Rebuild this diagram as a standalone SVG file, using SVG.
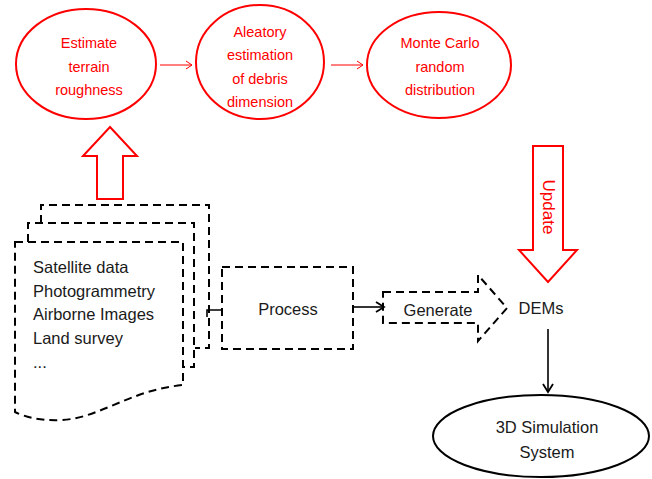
<svg xmlns="http://www.w3.org/2000/svg" width="652" height="479" viewBox="0 0 652 479">
<style>
.red{fill:none;stroke:#f00;stroke-width:2}
.rt{fill:#f00;font-family:"Liberation Sans",Arial,sans-serif;font-size:14.5px;text-anchor:middle}
.bt{fill:#1a1a1a;font-family:"Liberation Sans",Arial,sans-serif;font-size:16.5px}
.dash{fill:none;stroke:#000;stroke-width:2;stroke-dasharray:8,5}
.ln{fill:none;stroke:#000;stroke-width:1.6}
</style>
<defs>
<marker id="ra" markerWidth="10" markerHeight="10" refX="8" refY="5" orient="auto" markerUnits="userSpaceOnUse">
<path d="M2,1 L8,5 L2,9" fill="none" stroke="#f00" stroke-width="1"/>
</marker>
<marker id="ba" markerWidth="12" markerHeight="12" refX="10" refY="6" orient="auto" markerUnits="userSpaceOnUse">
<path d="M2,1 L10,6 L2,11" fill="none" stroke="#000" stroke-width="1.8"/>
</marker>
</defs>
<rect width="652" height="479" fill="#fff"/>

<g id="n-estimate">
<ellipse cx="86" cy="64" rx="70" ry="55" class="red"/>
<text class="rt" x="89" y="48">Estimate</text>
<text class="rt" x="89" y="72">terrain</text>
<text class="rt" x="89" y="95">roughness</text>
</g>
<g id="n-aleatory">
<ellipse cx="260" cy="62" rx="64" ry="57" class="red"/>
<text class="rt" x="260" y="37">Aleatory</text>
<text class="rt" x="260" y="60">estimation</text>
<text class="rt" x="260" y="84">of debris</text>
<text class="rt" x="260" y="107">dimension</text>
</g>
<g id="n-montecarlo">
<ellipse cx="439" cy="65" rx="72" ry="53" class="red"/>
<text class="rt" x="440" y="48">Monte Carlo</text>
<text class="rt" x="440" y="72">random</text>
<text class="rt" x="440" y="95">distribution</text>
</g>

<g id="n-uparrow">
<path d="M110,127 L137,156 L123,156 L123,199 L97,199 L97,156 L83,156 Z" class="red"/>
</g>
<g id="n-update">
<path d="M533,146 L563,146 L563,250 L577,250 L548,282 L519,250 L533,250 Z" class="red"/>
<text transform="translate(548,207) rotate(90)" x="0" y="0" fill="#f00" font-family="'Liberation Sans',Arial,sans-serif" font-size="17" text-anchor="middle" dominant-baseline="central">Update</text>
</g>

<g id="n-documents">
<path d="M41,223 V205 H209 V348 H195" class="dash"/>
<path d="M28,242 V223 H194 V367 H183" class="dash"/>
<path d="M15,242 H183 V385 C130,390 100,418 62,420 C40,421 25,417 15,412 Z" class="dash"/>
<text class="bt" x="33" y="273">Satellite data</text>
<text class="bt" x="33" y="297">Photogrammetry</text>
<text class="bt" x="33" y="320">Airborne Images</text>
<text class="bt" x="33" y="344">Land survey</text>
<text class="bt" x="33" y="368">...</text>
</g>

<g id="n-process">
<rect x="222" y="267" width="131" height="82" class="dash"/>
<text class="bt" x="288" y="315" text-anchor="middle" font-size="15.5">Process</text>
</g>

<g id="n-generate">
<path d="M383,292 H478 V275 L507,308 L478,341 V323 H383 Z" class="dash"/>
<text class="bt" x="438" y="316" text-anchor="middle" font-size="16">Generate</text>
</g>

<g id="n-dems">
<text class="bt" x="541" y="314" text-anchor="middle" font-size="15.5">DEMs</text>
</g>

<g id="n-3dsim">
<ellipse cx="541" cy="436" rx="108" ry="41" fill="none" stroke="#000" stroke-width="2"/>
<text class="bt" x="547" y="433" text-anchor="middle">3D Simulation</text>
<text class="bt" x="547" y="458" text-anchor="middle">System</text>
</g>

<g id="connectors">
<line x1="160" y1="65" x2="192" y2="65" stroke="#f00" stroke-width="1" marker-end="url(#ra)"/>
<line x1="331" y1="65" x2="363" y2="65" stroke="#f00" stroke-width="1" marker-end="url(#ra)"/>
<path d="M207,317 V310 H222" class="ln"/>
<line x1="353" y1="307" x2="384" y2="307" class="ln" marker-end="url(#ba)"/>
<line x1="548" y1="329" x2="548" y2="392" class="ln" marker-end="url(#ba)"/>
</g>
</svg>
